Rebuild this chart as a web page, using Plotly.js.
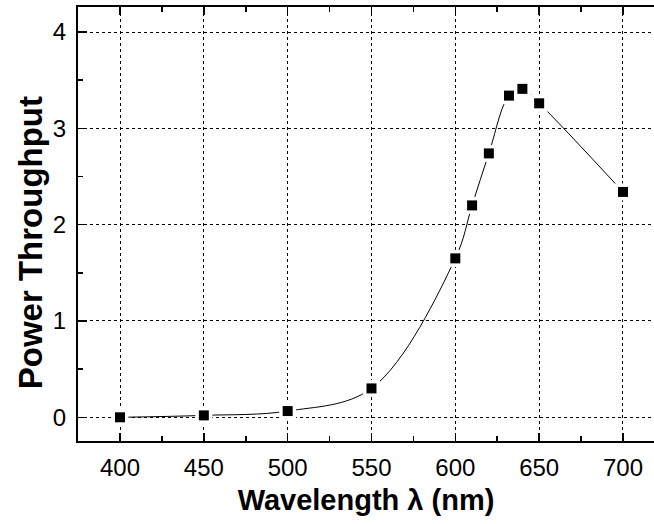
<!DOCTYPE html>
<html>
<head>
<meta charset="utf-8">
<script src="https://cdn.plot.ly/plotly-3.0.1.min.js"></script>
<style>html,body{margin:0;padding:0;background:#fff;}</style>
</head>
<body>
<div id="chart" style="width:654px;height:524px;"></div>
<script>
const wavelength = [400, 450, 500, 550, 600, 610, 620, 632, 640, 650, 700];
const throughput = [0.00, 0.02, 0.065, 0.30, 1.65, 2.20, 2.74, 3.34, 3.41, 3.26, 2.34];
const xTicks = [400, 450, 500, 550, 600, 650, 700];
const yTicks = [0, 1, 2, 3, 4];
const xTitle = 'Wavelength λ (nm)';
const yTitle = 'Power Throughput';

const fontFam = '"Liberation Sans", Arial, sans-serif';

const traces = [
  {
    x: wavelength, y: throughput, type: 'scatter', mode: 'lines',
    line: {color: '#000', width: 1, shape: 'spline', smoothing: 1},
    hoverinfo: 'skip'
  },
  {
    x: wavelength, y: throughput, type: 'scatter', mode: 'markers',
    marker: {symbol: 'square', size: 17, color: '#fff'},
    hoverinfo: 'skip'
  },
  {
    x: wavelength, y: throughput, type: 'scatter', mode: 'markers',
    marker: {symbol: 'square', size: 10, color: '#000'}
  }
];

const layout = {
  width: 654, height: 524,
  margin: {l: 78, r: 0, t: 7, b: 83},
  paper_bgcolor: '#fff', plot_bgcolor: '#fff',
  showlegend: false,
  font: {family: fontFam, color: '#000', size: 24},
  xaxis: {
    range: [374.95, 718.5],
    tickvals: xTicks, ticktext: xTicks.map(String),
    ticks: 'inside', ticklen: 8, tickwidth: 1.5, tickcolor: '#000',
    minor: {dtick: 25, tick0: 0, ticks: 'inside', ticklen: 5, tickwidth: 1.5, tickcolor: '#000', showgrid: false},
    showline: true, linewidth: 2, linecolor: '#000', mirror: 'ticks',
    showgrid: true, gridcolor: '#000', gridwidth: 1, griddash: 'dot',
    zeroline: false,
    tickfont: {size: 24},
    ticklabelstandoff: 4,
    title: {text: xTitle, font: {size: 29, weight: 700}, standoff: 10}
  },
  yaxis: {
    range: [-0.246, 4.26],
    tickvals: yTicks, ticktext: yTicks.map(String),
    ticks: 'inside', ticklen: 9, tickwidth: 1.5, tickcolor: '#000',
    minor: {dtick: 0.5, tick0: 0, ticks: 'inside', ticklen: 5, tickwidth: 1.5, tickcolor: '#000', showgrid: false},
    showline: true, linewidth: 2, linecolor: '#000', mirror: false,
    showgrid: true, gridcolor: '#000', gridwidth: 1, griddash: 'dot',
    zeroline: false,
    tickfont: {size: 24},
    ticklabelstandoff: 5
  },
  annotations: [{
    text: yTitle, textangle: -90, showarrow: false,
    xref: 'paper', yref: 'paper', x: -0.083, y: 0.456,
    xanchor: 'center', yanchor: 'middle',
    font: {size: 33, weight: 700, family: fontFam, color: '#000'}
  }]
};

Plotly.newPlot('chart', traces, layout, {displayModeBar: false, staticPlot: true});
</script>
</body>
</html>
